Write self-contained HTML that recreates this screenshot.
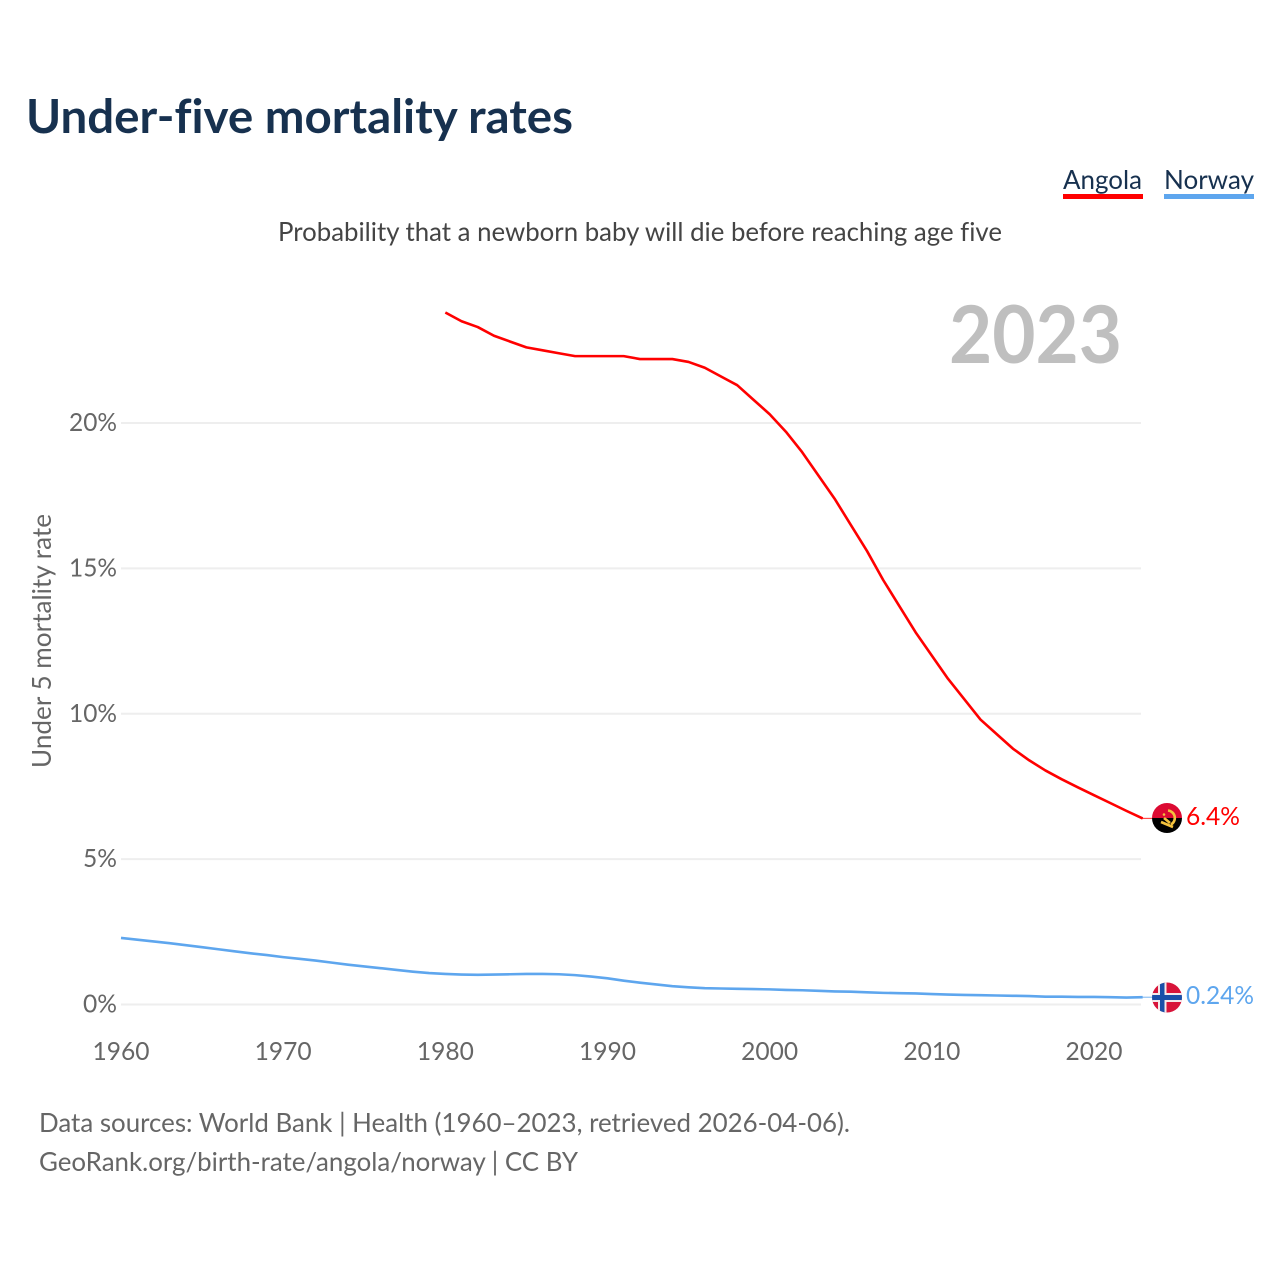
<!DOCTYPE html>
<html lang="en">
<head>
<meta charset="utf-8">
<title>Under-five mortality rates</title>
<style>
html,body{margin:0;padding:0;background:#fff;width:1280px;height:1280px;overflow:hidden}
svg{display:block}
text{font-family:"Lato","Carlito","Liberation Sans",sans-serif;font-variant-ligatures:none}
</style>
</head>
<body>
<svg id="chart" xmlns="http://www.w3.org/2000/svg" width="1280" height="1280" viewBox="0 0 1280 1280">
  <defs>
    <clipPath id="clip-ao"><circle cx="1167" cy="818" r="15"/></clipPath>
    <clipPath id="clip-no"><circle cx="1167" cy="997.5" r="15"/></clipPath>
  </defs>
  <text x="26" y="133" font-size="47" font-weight="700" fill="#17314f" textLength="547" lengthAdjust="spacingAndGlyphs">Under-five mortality rates</text>

  <g>
    <text x="1063" y="189" font-size="26.5" fill="#17314f" textLength="79" lengthAdjust="spacingAndGlyphs">Angola</text>
    <rect x="1063" y="194" width="80" height="5" fill="#ff0000"/>
  </g>
  <g>
    <text x="1164" y="189" font-size="26.5" fill="#17314f" textLength="90" lengthAdjust="spacingAndGlyphs">Norway</text>
    <rect x="1164" y="194" width="90" height="5" fill="#5ea6ee"/>
  </g>

  <text x="278" y="241" font-size="26.5" fill="#444" textLength="724" lengthAdjust="spacingAndGlyphs">Probability that a newborn baby will die before reaching age five</text>
  <text x="949" y="363" font-size="80" font-weight="700" fill="#bfbfbf" textLength="173" lengthAdjust="spacingAndGlyphs">2023</text>
  <text transform="translate(51,768) rotate(-90)" font-size="26.5" fill="#666" textLength="254" lengthAdjust="spacingAndGlyphs">Under 5 mortality rate</text>

  <g id="grid"></g>
  <g id="yticks"></g>
  <g id="xticks"></g>
  <g id="series"></g>

  <g>
    <g clip-path="url(#clip-ao)">
      <rect x="1152" y="803" width="30" height="15" fill="#dc0a32"/>
      <rect x="1152" y="818" width="30" height="15" fill="#000"/>
      <path d="M1168 810.5 a7.5 7.5 0 0 1 3 14 M1161 822 L1173 827 M1164 818 L1170 823" fill="none" stroke="#f4c23d" stroke-width="2.6"/>
      <circle cx="1164" cy="814.5" r="1.3" fill="#f4c23d"/>
    </g>
  </g>
  <g>
    <g clip-path="url(#clip-no)">
      <rect x="1152" y="982" width="30" height="31" fill="#d8143a"/>
      <rect x="1158" y="982" width="8.5" height="31" fill="#f4e9ea"/>
      <rect x="1152" y="993" width="30" height="9" fill="#f4e9ea"/>
      <rect x="1160" y="982" width="4.5" height="31" fill="#1a4fa8"/>
      <rect x="1152" y="995" width="30" height="5" fill="#1a4fa8"/>
    </g>
  </g>

  <text x="1186" y="825" font-size="25.5" fill="#ff0000" textLength="54" lengthAdjust="spacingAndGlyphs">6.4%</text>
  <text x="1186" y="1004" font-size="25.5" fill="#5ea6ee" textLength="68" lengthAdjust="spacingAndGlyphs">0.24%</text>

  <text x="39" y="1132" font-size="26.5" fill="#666" textLength="811" lengthAdjust="spacingAndGlyphs">Data sources: World Bank | Health (1960–2023, retrieved 2026-04-06).</text>
  <text x="39" y="1171" font-size="26.5" fill="#666" textLength="539" lengthAdjust="spacingAndGlyphs">GeoRank.org/birth-rate/angola/norway | CC BY</text>
</svg>
<script>
const xTickYears = [1960, 1970, 1980, 1990, 2000, 2010, 2020];
const yTickValues = [0, 5, 10, 15, 20];
const angolaStartYear = 1980;
const angolaValues = [23.8, 23.5, 23.3, 23.0, 22.8, 22.6, 22.5, 22.4, 22.3, 22.3, 22.3, 22.3, 22.2, 22.2, 22.2, 22.1, 21.9, 21.6, 21.3, 20.8, 20.3, 19.7, 19.0, 18.2, 17.4, 16.5, 15.6, 14.6, 13.7, 12.8, 12.0, 11.2, 10.5, 9.8, 9.3, 8.8, 8.4, 8.05, 7.75, 7.47, 7.2, 6.93, 6.66, 6.4];
const norwayStartYear = 1960;
const norwayValues = [2.29, 2.23, 2.17, 2.11, 2.04, 1.97, 1.90, 1.83, 1.76, 1.70, 1.63, 1.57, 1.51, 1.44, 1.37, 1.31, 1.25, 1.19, 1.13, 1.08, 1.05, 1.03, 1.02, 1.03, 1.04, 1.05, 1.05, 1.04, 1.01, 0.96, 0.90, 0.82, 0.75, 0.69, 0.63, 0.59, 0.56, 0.55, 0.54, 0.53, 0.52, 0.50, 0.49, 0.47, 0.45, 0.44, 0.42, 0.40, 0.39, 0.38, 0.36, 0.34, 0.33, 0.32, 0.31, 0.30, 0.29, 0.27, 0.27, 0.26, 0.26, 0.25, 0.24, 0.25];

const NS = 'http://www.w3.org/2000/svg';
const xScale = function (year) { return 121 + (year - 1960) * (1094 - 121) / 60; };
const yScale = function (value) { return 1004.5 - value * (1004.5 - 423) / 20; };

function make(tag, attrs, parent, text) {
  const el = document.createElementNS(NS, tag);
  Object.keys(attrs).forEach(function (k) { el.setAttribute(k, attrs[k]); });
  if (text !== undefined) el.textContent = text;
  parent.appendChild(el);
  return el;
}

const gridGroup = document.getElementById('grid');
const yTickGroup = document.getElementById('yticks');
const xTickGroup = document.getElementById('xticks');
const seriesGroup = document.getElementById('series');

yTickValues.forEach(function (v) {
  const line = make('line', { x1: 121, x2: 1141, y1: yScale(v), y2: yScale(v), stroke: '#eeeeee', 'stroke-width': 2 }, gridGroup);
  
  
  const label = make('text', { x: 117, y: yScale(v) + 8, 'text-anchor': 'end', 'font-size': 25.5, fill: '#666' }, yTickGroup, v + '%');
  label.setAttribute('textLength', v < 10 ? 34 : 48);
  label.setAttribute('lengthAdjust', 'spacingAndGlyphs');
  
  
});

xTickYears.forEach(function (year) {
  const label = make('text', { x: xScale(year), y: 1060, 'text-anchor': 'middle', 'font-size': 25.5, fill: '#666' }, xTickGroup, String(year));
  label.setAttribute('textLength', 57);
  label.setAttribute('lengthAdjust', 'spacingAndGlyphs');
  
  
});

function drawSeries(values, startYear, color) {
  const pts = values.map(function (v, i) { return xScale(startYear + i).toFixed(2) + ',' + yScale(v).toFixed(2); });
  return make('polyline', { points: pts.join(' '), fill: 'none', stroke: color, 'stroke-width': 2.6, 'stroke-linejoin': 'round' }, seriesGroup);
}
function drawConnector(values, color) {
  const y = yScale(values[values.length - 1]);
  return make('line', { x1: 1142, x2: 1152, y1: y, y2: y, stroke: color, 'stroke-width': 1.2, opacity: 0.7 }, seriesGroup);
}

const angolaLine = drawSeries(angolaValues, angolaStartYear, '#ff0000');


const norwayLine = drawSeries(norwayValues, norwayStartYear, '#5ea6ee');


const angolaConnector = drawConnector(angolaValues, '#ff0000');


const norwayConnector = drawConnector(norwayValues, '#5ea6ee');


</script>
</body>
</html>
